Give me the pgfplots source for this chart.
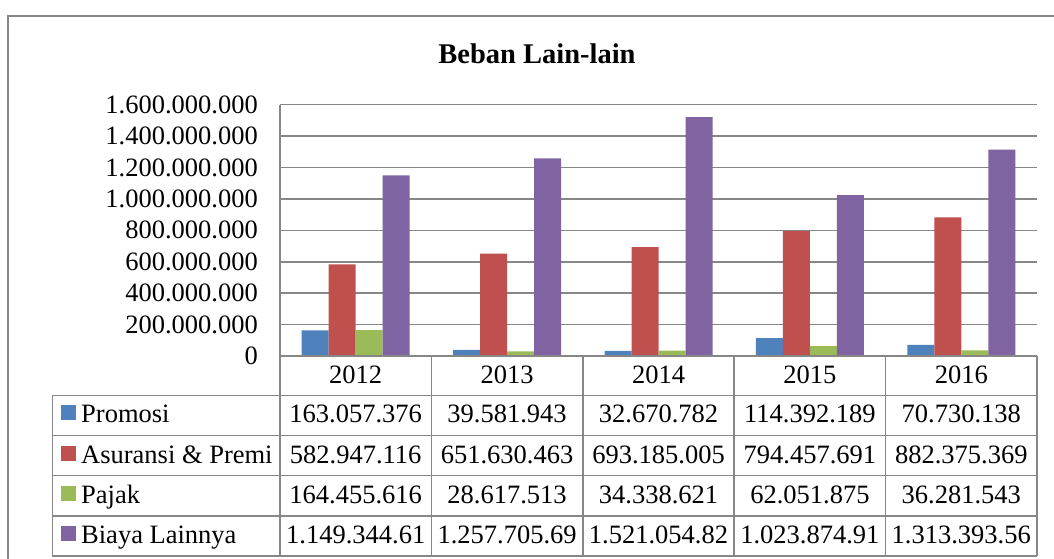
\documentclass[border=0pt]{standalone}
\usepackage{pgfplots}
\pgfplotsset{compat=1.18}
\usepackage{fontspec}
\setmainfont{Liberation Serif}
\definecolor{cPro}{HTML}{4F81BD}
\definecolor{cAsu}{HTML}{C0504D}
\definecolor{cPaj}{HTML}{9BBB59}
\definecolor{cBia}{HTML}{8064A2}
\definecolor{gridgray}{HTML}{878787}
\newcommand\tf{\fontsize{26.6}{30}\selectfont}
\begin{document}
\begin{tikzpicture}[x=1bp,y=1bp]
\path[use as bounding box] (0,0) rectangle (1054,559);
% chart border
\draw[gridgray, line width=2bp] (8.4,-10) -- (8.4,542.8) -- (1070,542.8);
% title
\node[anchor=base, font=\fontsize{28.6}{32}\selectfont\bfseries, inner sep=0pt] at (537,495) {Beban Lain-lain};
\begin{axis}[
  at={(280bp,203bp)}, anchor=south west,
  scale only axis, width=757bp, height=251.3bp,
  xmin=-0.5, xmax=4.5, ymin=0, ymax=1600000000,
  xtick=\empty,
  ytick={0,200000000,400000000,600000000,800000000,1000000000,1200000000,1400000000,1600000000},
  yticklabels={0,200.000.000,400.000.000,600.000.000,800.000.000,1.000.000.000,1.200.000.000,1.400.000.000,1.600.000.000},
  scaled y ticks=false,
  yticklabel style={font=\tf, inner sep=0pt, anchor=east, xshift=-22bp},
  tick style={draw=none},
  axis line style={draw=none},
  ymajorgrids, grid style={gridgray, line width=1.5bp},
  ybar=0pt, bar width=27bp,
  clip=false,
]
\addplot[fill=cPro, draw=none] coordinates {(0,163057376) (1,39581943) (2,32670782) (3,114392189) (4,70730138)};
\addplot[fill=cAsu, draw=none] coordinates {(0,582947116) (1,651630463) (2,693185005) (3,794457691) (4,882375369)};
\addplot[fill=cPaj, draw=none] coordinates {(0,164455616) (1,28617513) (2,34338621) (3,62051875) (4,36281543)};
\addplot[fill=cBia, draw=none] coordinates {(0,1149344610) (1,1257705690) (2,1521054820) (3,1023874910) (4,1313393560)};
\end{axis}
% data table grid (image y -> 559 - y)
\begin{scope}[gridgray, line width=1.5bp]
\draw (280,203) -- (1037,203);
\foreach \yy in {163.5,123.4,83.3,43.2,3.1} \draw (52.4,\yy) -- (1037,\yy);
\draw (52.4,163.5) -- (52.4,3.1);
\draw (280,454.3) -- (280,3.1);
\foreach \k in {1,...,5} \draw ({280+151.4*\k},203) -- ({280+151.4*\k},3.1);
\end{scope}
% header years
\foreach \yr [count=\i from 0] in {2012,2013,2014,2015,2016}
  \node[anchor=base, font=\tf, inner sep=0pt] at ({355.7+151.4*\i},175.5) {\yr};
% rows
\newcommand\trow[8]{%
  \fill[#2] (61,{#1+2.5}) rectangle (76,{#1+17.5});
  \node[anchor=base west, font=\tf, inner sep=0pt] at (81,#1) {#3};
  \node[anchor=base, font=\tf, inner sep=0pt] at (355.7,#1) {#4};
  \node[anchor=base, font=\tf, inner sep=0pt] at (507.1,#1) {#5};
  \node[anchor=base, font=\tf, inner sep=0pt] at (658.5,#1) {#6};
  \node[anchor=base, font=\tf, inner sep=0pt] at (809.9,#1) {#7};
  \node[anchor=base, font=\tf, inner sep=0pt] at (961.3,#1) {#8};
}
\trow{136}{cPro}{Promosi}{163.057.376}{39.581.943}{32.670.782}{114.392.189}{70.730.138}
\trow{95.9}{cAsu}{Asuransi \& Premi}{582.947.116}{651.630.463}{693.185.005}{794.457.691}{882.375.369}
\trow{55.8}{cPaj}{Pajak}{164.455.616}{28.617.513}{34.338.621}{62.051.875}{36.281.543}
\trow{15.7}{cBia}{Biaya Lainnya}{1.149.344.61}{1.257.705.69}{1.521.054.82}{1.023.874.91}{1.313.393.56}
\end{tikzpicture}
\end{document}
